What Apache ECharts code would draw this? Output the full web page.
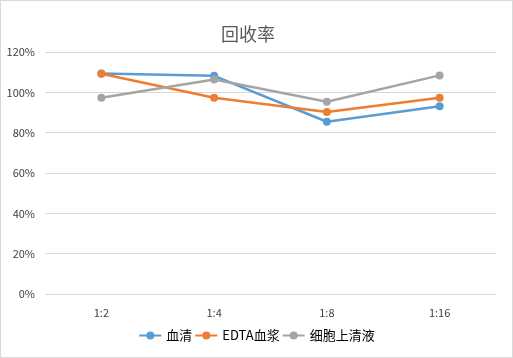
<!DOCTYPE html>
<html>
<head>
<meta charset="utf-8">
<script src="https://cdn.jsdelivr.net/npm/echarts@6/dist/echarts.min.js"></script>
<style>
html,body{margin:0;padding:0;background:#fff;}
#c{width:511px;height:356px;border:1px solid #d9d9d9;}
</style>
</head>
<body>
<div id="c"></div>
<script>
var categories = ['1:2', '1:4', '1:8', '1:16'];
var seriesNames = ['血清', 'EDTA血浆', '细胞上清液'];
var serum = [109.4, 108.2, 85.4, 93.1];
var edta = [109.2, 97.3, 90.3, 97.3];
var supernatant = [97.3, 106.4, 95.3, 108.4];
var yTicks = [0, 20, 40, 60, 80, 100, 120];
var colors = ['#5b9bd5', '#ed7d31', '#a5a5a5'];

var chart = echarts.init(document.getElementById('c'));
var font = '"Microsoft YaHei","Noto Sans CJK SC",sans-serif';
function mk(name, data, color) {
  return {
    name: name, type: 'line', data: data,
    symbol: 'circle', symbolSize: 8,
    itemStyle: {color: color},
    lineStyle: {color: color, width: 2.5},
    animation: false
  };
}
chart.setOption({
  animation: false,
  title: {
    text: '回收率', left: 215, top: 19,
    textStyle: {fontFamily: font, fontSize: 18, fontWeight: 'normal', color: '#595959'}
  },
  grid: {left: 44, right: 16, top: 51, bottom: 63, containLabel: false},
  legend: {
    bottom: 10, left: 'center',
    itemWidth: 22, itemHeight: 10, itemGap: 2,
    textStyle: {fontFamily: font, fontSize: 13, color: '#000'},
    data: seriesNames
  },
  xAxis: {
    type: 'category', data: categories, boundaryGap: true,
    axisLine: {show: false}, axisTick: {show: false},
    axisLabel: {fontFamily: font, fontSize: 11, color: '#404040', margin: 13}
  },
  yAxis: {
    type: 'value', min: yTicks[0], max: yTicks[yTicks.length - 1], interval: 20,
    axisLine: {show: false}, axisTick: {show: false},
    splitLine: {lineStyle: {color: '#d9d9d9', width: 1}},
    axisLabel: {fontFamily: font, fontSize: 11, color: '#404040', margin: 10,
      formatter: function (v) { return v + '%'; }}
  },
  series: [
    mk(seriesNames[0], serum, colors[0]),
    mk(seriesNames[1], edta, colors[1]),
    mk(seriesNames[2], supernatant, colors[2])
  ]
});
</script>
</body>
</html>
